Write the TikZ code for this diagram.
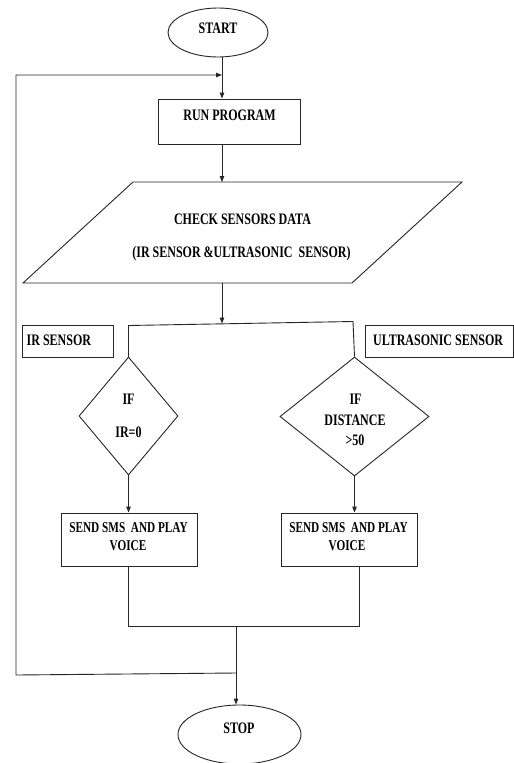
\documentclass[tikz,border=0pt]{standalone}
\usepackage{fontspec}
\setmainfont{Liberation Serif}
\newfontfamily\condf[FakeStretch=0.75]{Liberation Serif}
\usetikzlibrary{arrows.meta,shapes.geometric}
\begin{document}
\begin{tikzpicture}[x=1pt,y=-1pt,
  ln/.style={draw=black!85,line width=0.9pt},
  arr/.style={ln,-{Triangle[length=6pt,width=4.5pt]}},
  lbl/.style={font=\condf\bfseries\fontsize{16}{16}\selectfont,inner sep=0pt,text height=10.6pt,text depth=0pt},
  slbl/.style={font=\condf\bfseries\fontsize{15}{15}\selectfont,inner sep=0pt,text height=10pt,text depth=0pt},
  boxn/.style={ln,rectangle,inner sep=0pt},
  ovaln/.style={ln,ellipse,inner sep=0pt},
  decn/.style={ln,diamond,inner sep=0pt}]
\useasboundingbox (0,0) rectangle (514,763);
\fill[white] (0,0) rectangle (514,763);

% start
\node[ovaln,minimum width=100pt,minimum height=49pt] (start) at (218,32.5) {};
\node[lbl] (startt) at (218,28) {START};

% run program
\node[boxn,minimum width=142pt,minimum height=45pt] (run) at (229,121.5) {};
\node[lbl] (runt) at (229.5,115) {RUN PROGRAM};

% parallelogram
\coordinate (p1) at (133,182);
\coordinate (p2) at (462,182);
\coordinate (p3) at (352,283);
\coordinate (p4) at (23,283);
\draw[ln,line join=miter] (p1) -- (p2) -- (p3) -- (p4) -- cycle;
\coordinate (ptop) at (222,182);
\coordinate (pbot) at (222,283);
\node[lbl] (chk1) at (242.5,219) {CHECK SENSORS DATA};
\node[lbl] (chk2) at (241.5,252) {(IR SENSOR \&ULTRASONIC\ \ SENSOR)};

% labels boxes
\node[boxn,minimum width=91pt,minimum height=32pt] (irbox) at (67.5,341) {};
\node[lbl,anchor=west] (irt) at (26.5,340) {IR SENSOR};
\node[boxn,minimum width=148pt,minimum height=32pt] (usbox) at (439.5,341) {};
\node[lbl,anchor=west] (ust) at (373,340) {ULTRASONIC SENSOR};

% diamonds
\node[decn,minimum width=99pt,minimum height=118pt] (d1) at (128.5,416) {};
\node[lbl] (d1a) at (128.5,399) {IF};
\node[lbl] (d1b) at (128.5,432) {IR=0};
\node[decn,minimum width=149pt,minimum height=119pt] (d2) at (354.5,416.5) {};
\node[lbl] (d2a) at (355.5,399) {IF};
\node[lbl] (d2b) at (355,420) {DISTANCE};
\node[lbl] (d2c) at (355,440) {>50};

% sms boxes
\node[boxn,minimum width=136pt,minimum height=53pt] (s1) at (129,539.5) {};
\node[slbl] (s1a) at (128.5,527) {SEND SMS\ \ AND PLAY};
\node[slbl] (s1b) at (128,545) {VOICE};
\node[boxn,minimum width=136pt,minimum height=53pt] (s2) at (349,539.5) {};
\node[slbl] (s2a) at (348.5,527) {SEND SMS\ \ AND PLAY};
\node[slbl] (s2b) at (347,545) {VOICE};

% stop
\node[ovaln,minimum width=123pt,minimum height=59pt] (stop) at (239.5,734.5) {};
\node[lbl] (stopt) at (239,728) {STOP};

% connectors
\coordinate (cx) at (222,0);
\coordinate (loopin) at (222,75);
\draw[arr] (start.south -| cx) -- (run.north -| cx);
\draw[arr] (run.south -| cx) -- (ptop);
\coordinate (jl) at (128.5,325.5);
\coordinate (jr) at (353,321.5);
\coordinate (jm) at (222,323.5);
\draw[arr] (pbot) -- (jm);
\draw[ln] (d1.north) -- (jl) -- (jr) -- (d2.north);
\draw[arr] (d1.south) -- (s1.north -| d1.south);
\draw[arr] (d2.south) -- (s2.north -| d2.south);
\coordinate (ml) at (128,626);
\coordinate (mr) at (359,626);
\coordinate (mm) at (236,626);
\draw[ln] (s1.south -| ml) -- (ml) -- (mr) -- (s2.south -| mr);
\draw[arr] (mm) -- (stop.north -| mm);
\coordinate (lp1) at (236,673);
\coordinate (lp2) at (16,675);
\coordinate (lp3) at (16,75);
\draw[arr] (lp1) -- (lp2) -- (lp3) -- (loopin);
\end{tikzpicture}
\end{document}
